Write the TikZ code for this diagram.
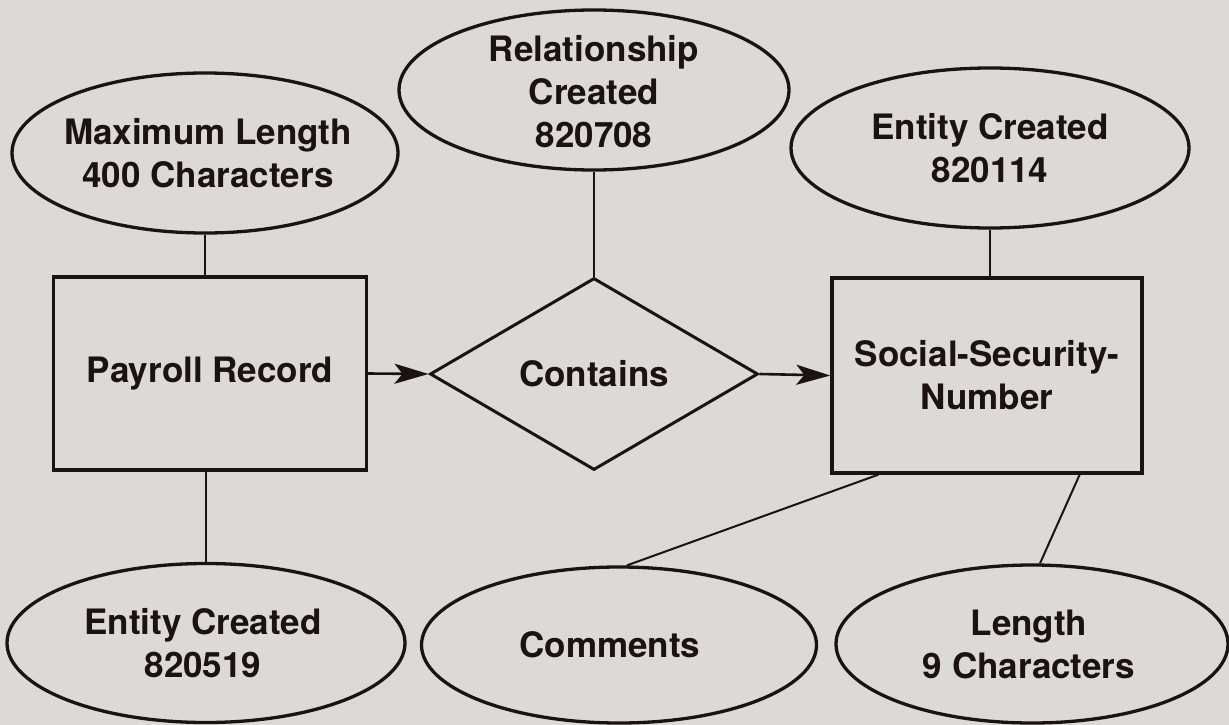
\documentclass[tikz,border=0pt]{standalone}
\usepackage{fontspec}
\setmainfont{TeX Gyre Heros}
\usetikzlibrary{shapes.geometric,arrows.meta}
\definecolor{bgpaper}{RGB}{221,217,212}
\definecolor{ink}{RGB}{28,18,18}
\tikzset{
  lbl/.style={font=\fontsize{35}{43}\selectfont\bfseries, text=ink, align=center, inner sep=0pt},
  ellnode/.style={draw=ink, line width=3.3pt, ellipse, inner sep=0pt, minimum width=#1},
  entbox/.style={draw=ink, line width=3.3pt, rectangle, inner sep=0pt, font=\fontsize{35}{43}\selectfont\bfseries, text=ink, align=center},
  relnode/.style={draw=ink, line width=3pt, diamond, aspect=1.7, inner sep=0pt, font=\fontsize{35}{43}\selectfont\bfseries, text=ink, align=center, minimum width=328pt, minimum height=192pt},
  link/.style={draw=ink, line width=2pt},
  flow/.style={draw=ink, line width=2.6pt, -{Stealth[length=34pt,width=20pt,inset=8pt]}}
}
\begin{document}
\begin{tikzpicture}[x=1pt,y=-1pt]
\fill[bgpaper] (0,0) rectangle (1229,725);
\useasboundingbox (0,0) rectangle (1229,725);

% entities
\node[entbox, minimum width=313pt, minimum height=193pt] (payroll) at (210,373.5) {Payroll Record};
\node[entbox, minimum width=310pt, minimum height=195pt] (ssn) at (987,375.5) {Social-Security-\\Number};

% relationship
\node[relnode] (contains) at (594,374) {Contains};

% attribute ellipses
\node[ellnode=386pt, minimum height=160pt, label={[lbl,xshift=3pt]center:Maximum Length\\400 Characters}] (maxlen) at (205,153) {};
\node[ellnode=390pt, minimum height=160pt, label={[lbl,yshift=-2pt]center:Relationship\\Created\\820708}] (relcreated) at (594,90) {};
\node[ellnode=398pt, minimum height=160pt, label={[lbl]center:Entity Created\\820114}] (entcreatedA) at (990,148) {};
\node[ellnode=398pt, minimum height=159pt, label={[lbl,xshift=-3pt]center:Entity Created\\820519}] (entcreatedB) at (206,643) {};
\node[ellnode=395pt, minimum height=156pt, label={[lbl,xshift=-9pt]center:Comments}] (comments) at (619,645) {};
\node[ellnode=392pt, minimum height=158pt, label={[lbl,xshift=-3pt]center:Length\\9 Characters}] (lengthattr) at (1032,644) {};

% connectors
\draw[link] (maxlen.south) -- (maxlen.south |- payroll.north);
\draw[link] (entcreatedB.north) -- (entcreatedB.north |- payroll.south);
\draw[link] (relcreated.south) -- (contains.north);
\draw[link] (entcreatedA.south) -- (entcreatedA.south |- ssn.north);
\draw[link] ([xshift=48pt]ssn.south west) -- ([xshift=8pt]comments.north);
\draw[link] ([xshift=-64pt]ssn.south east) -- ([xshift=8pt]lengthattr.north);

\draw[flow] (payroll.east) -- (contains.west);
\draw[flow] (contains.east) -- (ssn.west);
\end{tikzpicture}
\end{document}
